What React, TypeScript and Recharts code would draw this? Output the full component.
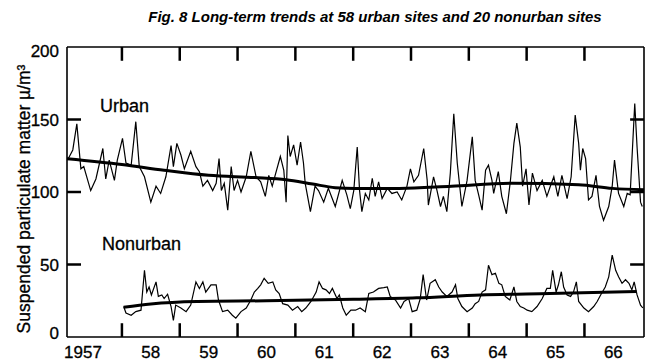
import { ComposedChart, Line, ReferenceLine, XAxis, YAxis } from 'recharts'

// urban sites, 1957-1966 (µg/m³)
const urbanYears = [
  1957.06, 1957.15, 1957.22, 1957.29, 1957.34, 1957.46, 1957.55, 1957.67, 1957.72, 1957.78,
  1957.87, 1957.92, 1958.01, 1958.07, 1958.16, 1958.24, 1958.3, 1958.39, 1958.5, 1958.59,
  1958.67, 1958.76, 1958.85, 1958.89, 1958.95, 1959.02, 1959.08, 1959.19, 1959.28, 1959.34,
  1959.4, 1959.48, 1959.57, 1959.63, 1959.68, 1959.72, 1959.77, 1959.83, 1959.89, 1959.94,
  1960.0, 1960.06, 1960.15, 1960.23, 1960.32, 1960.4, 1960.48, 1960.54, 1960.6, 1960.65,
  1960.74, 1960.8, 1960.84, 1960.87, 1960.91, 1960.97, 1961.03, 1961.09, 1961.14, 1961.17,
  1961.26, 1961.34, 1961.4, 1961.49, 1961.57, 1961.69, 1961.81, 1961.89, 1961.95, 1962.01,
  1962.07, 1962.11, 1962.15, 1962.21, 1962.27, 1962.33, 1962.38, 1962.44, 1962.5, 1962.59,
  1962.67, 1962.76, 1962.84, 1962.93, 1962.99, 1963.05, 1963.13, 1963.22, 1963.28, 1963.3,
  1963.39, 1963.45, 1963.51, 1963.56, 1963.62, 1963.68, 1963.74, 1963.8, 1963.88, 1963.97,
  1964.06, 1964.11, 1964.17, 1964.23, 1964.29, 1964.34, 1964.4, 1964.43, 1964.51, 1964.57,
  1964.65, 1964.72, 1964.78, 1964.83, 1964.89, 1964.93, 1964.99, 1965.04, 1965.1, 1965.18,
  1965.27, 1965.35, 1965.41, 1965.47, 1965.54, 1965.61, 1965.7, 1965.77, 1965.84, 1965.9,
  1965.93, 1965.97, 1966.02, 1966.07, 1966.13, 1966.2, 1966.26, 1966.33, 1966.42, 1966.48,
  1966.52, 1966.59, 1966.68, 1966.74, 1966.79, 1966.87, 1966.91, 1966.97, 1967.0,
]
const urbanValues = [
  122, 129, 147, 116, 117.5, 101, 109, 130, 109, 122,
  108, 122, 137, 120, 118.5, 148.5, 117.5, 110.5, 93, 104,
  99, 110.5, 132, 117.5, 133.5, 125.5, 116, 128, 117.5, 114,
  104, 108, 101, 106, 123, 101, 106, 87.5, 117.5, 101,
  108, 100, 110.5, 128, 110.5, 107, 97, 111.5, 104, 111.5,
  124.5, 115, 93, 139, 124.5, 132.5, 118.5, 134.5, 120, 106,
  86.5, 104, 101, 93, 102.5, 90, 108, 98, 88.5, 101,
  131, 101, 86.5, 99, 94.5, 109.5, 97, 107, 95.5, 102.5,
  99, 100, 94.5, 104, 116, 107, 111.5, 130, 108, 91,
  110.5, 101, 90, 97, 86.5, 113, 154, 120, 90, 108,
  138, 108, 98, 87.5, 115, 118.5, 108, 99, 114, 97,
  85, 108, 133.5, 147.5, 131, 104, 116, 91, 113, 101,
  108, 97, 104, 110.5, 97, 111.5, 95.5, 110.5, 153, 133.5,
  115, 130, 123, 94.5, 97, 111.5, 90, 80.5, 90, 104,
  122, 99, 90, 99, 98, 161, 131, 93, 90,
]

const urbanTrendYears = [1957.05, 1958.0, 1958.73, 1959.5, 1960.3, 1960.84, 1961.3, 1961.69, 1962.04, 1962.8, 1963.7, 1964.75, 1965.9, 1966.48, 1967.03]
const urbanTrendValues = [123, 119, 115, 111.5, 110, 108.5, 105.5, 103, 102.5, 102.5, 104, 106, 105, 102.5, 101.5]

// nonurban sites, 1958-1966
const nonurbanYears = [
  1958.03, 1958.07, 1958.16, 1958.24, 1958.33, 1958.39, 1958.43, 1958.47, 1958.51, 1958.59,
  1958.63, 1958.69, 1958.73, 1958.79, 1958.85, 1958.89, 1958.93, 1959.02, 1959.11, 1959.19,
  1959.28, 1959.34, 1959.4, 1959.45, 1959.54, 1959.63, 1959.67, 1959.74, 1959.83, 1959.91,
  1959.97, 1960.06, 1960.15, 1960.23, 1960.29, 1960.35, 1960.4, 1960.46, 1960.53, 1960.61,
  1960.66, 1960.72, 1960.78, 1960.87, 1960.95, 1961.04, 1961.11, 1961.18, 1961.27, 1961.36,
  1961.41, 1961.47, 1961.53, 1961.59, 1961.64, 1961.72, 1961.76, 1961.82, 1961.88, 1961.96,
  1962.04, 1962.12, 1962.21, 1962.27, 1962.35, 1962.44, 1962.53, 1962.59, 1962.64, 1962.73,
  1962.82, 1962.88, 1962.96, 1963.02, 1963.1, 1963.16, 1963.21, 1963.27, 1963.33, 1963.42,
  1963.48, 1963.54, 1963.62, 1963.71, 1963.77, 1963.81, 1963.88, 1963.97, 1964.06, 1964.11,
  1964.17, 1964.23, 1964.29, 1964.34, 1964.4, 1964.46, 1964.52, 1964.57, 1964.63, 1964.71,
  1964.78, 1964.83, 1964.89, 1964.95, 1965.01, 1965.09, 1965.18, 1965.27, 1965.35, 1965.41,
  1965.45, 1965.51, 1965.55, 1965.6, 1965.64, 1965.7, 1965.76, 1965.81, 1965.86, 1965.9,
  1965.99, 1966.07, 1966.16, 1966.22, 1966.28, 1966.36, 1966.42, 1966.48, 1966.54, 1966.59,
  1966.65, 1966.71, 1966.77, 1966.82, 1966.86, 1966.91, 1966.97, 1967.01,
]
const nonurbanValues = [
  21, 16.5, 15, 17.5, 18.5, 46, 31, 34.5, 29, 38,
  28, 29, 26.5, 29.5, 21, 11.5, 22, 20, 17.5, 22,
  38, 33.5, 38, 31, 36, 36, 25.5, 17.5, 18.5, 15,
  13, 17.5, 20, 25.5, 31, 33.5, 36, 40.5, 37, 38,
  32.5, 30, 23, 22, 18.5, 21, 17.5, 20, 24.5, 31,
  38, 33.5, 32.5, 30, 33.5, 26.5, 29, 20, 15, 18.5,
  18.5, 20, 17.5, 30, 31, 33.5, 34, 34.5, 28, 25.5,
  20, 24.5, 26.5, 17.5, 18.5, 26.5, 43, 25.5, 37, 39.5,
  34.5, 31, 28, 31, 36, 26.5, 21, 17.5, 20, 23,
  24.5, 31, 32.5, 49.5, 43, 44, 37, 36, 28, 25.5,
  34.5, 24.5, 21, 20, 18.5, 17.5, 21, 26.5, 33.5, 33.5,
  46, 31, 36, 45, 34.5, 29, 28, 31, 38, 24.5,
  20, 17.5, 21, 24.5, 29, 34.5, 41.5, 56.5, 46, 41.5,
  37, 39.5, 37, 32.5, 38, 29, 22, 20,
]

const nonurbanTrendYears = [1958.03, 1958.5, 1959.3, 1960.5, 1962.0, 1963.1, 1964.2, 1965.4, 1966.9]
const nonurbanTrendValues = [20.5, 22.8, 24.5, 25, 26, 27, 29, 30, 31.3]

// mid-year label positions and the year boundaries (inward tick marks)
const yearLabels = ['1957', '58', '59', '60', '61', '62', '63', '64', '65', '66']
const labelTicks = [1957.5, 1958.5, 1959.5, 1960.5, 1961.5, 1962.5, 1963.5, 1964.5, 1965.5, 1966.5]
const yearBoundaries = [1958, 1959, 1960, 1961, 1962, 1963, 1964, 1965, 1966]
const yTicks = [0, 50, 100, 150, 200]
const innerYTicks = [50, 100, 150]

const X_DOMAIN: [number, number] = [1957.05, 1967.03]
const Y_DOMAIN: [number, number] = [0, 200]
const INK = 'black'
// inward mark length in data units (about 14px on each axis)
const MARK_Y = 9.5
const MARK_X = 0.24
const MARK_W = 2.5

const toPoints = (xs: number[], ys: number[]) => xs.map((year, i) => ({ year, value: ys[i] }))

const urbanData = toPoints(urbanYears, urbanValues)
const urbanTrend = toPoints(urbanTrendYears, urbanTrendValues)
const nonurbanData = toPoints(nonurbanYears, nonurbanValues)
const nonurbanTrend = toPoints(nonurbanTrendYears, nonurbanTrendValues)

const textInk = { fill: INK, stroke: INK, strokeWidth: 0.3, fontFamily: '"Liberation Sans", Arial, sans-serif' }

function YearTick(props: any) {
  const x = Number(props.x)
  const y = Number(props.y)
  const i = labelTicks.findIndex((t) => Math.abs(t - Number(props.payload?.value)) < 1e-6)
  if (i < 0) return <g />
  return (
    <text x={i === 0 ? x - 10 : x} y={y} dy="0.71em" textAnchor="middle" fontSize={17} {...textInk}>
      {yearLabels[i]}
    </text>
  )
}

// left axis: label outside, inward mark at 50/100/150
function ValueTick(props: any) {
  const x = Number(props.x)
  const y = Number(props.y)
  const v = Number(props.payload?.value)
  const nudge = v === 200 ? 4 : v === 0 ? -4 : 0
  const inner = innerYTicks.indexOf(v) >= 0
  return (
    <g>
      <text x={x} y={y + nudge} dy="0.355em" textAnchor="end" fontSize={17} {...textInk}>
        {v}
      </text>
      {inner ? <line x1={x + 8} x2={x + 22} y1={y} y2={y} stroke="black" strokeWidth={MARK_W} /> : null}
    </g>
  )
}

export default function App() {
  const frame = { stroke: INK, strokeWidth: 1.6 }

  return (
    <div style={{ position: 'absolute', left: 0, top: 0, width: 650, height: 363, background: '#fff' }}>
      <svg width={650} height={363} style={{ position: 'absolute', left: 0, top: 0 }}>
        <text x={375} y={22} textAnchor="middle" fontSize={15} fontWeight="bold" fontStyle="italic" fill={INK} fontFamily='"Liberation Sans", Arial, sans-serif'>
          Fig. 8 Long-term trends at 58 urban sites and 20 nonurban sites
        </text>
        <text x={0} y={0} transform="translate(30 199) rotate(-90)" textAnchor="middle" fontSize={17.5} {...textInk}>
          Suspended particulate matter µ/m³
        </text>
        <text x={100} y={112} fontSize={18} {...textInk}>Urban</text>
        <text x={102} y={250} fontSize={18} {...textInk}>Nonurban</text>
      </svg>

      <ComposedChart width={650} height={363} margin={{ top: 47, right: 6, bottom: 0, left: 7 }}>
        <XAxis
          xAxisId="x"
          dataKey="year"
          type="number"
          domain={X_DOMAIN}
          allowDataOverflow
          ticks={labelTicks}
          tick={<YearTick />}
          tickLine={false}
          tickSize={0}
          tickMargin={9}
          height={26}
          axisLine={frame}
          interval={0}
        />
        <YAxis
          yAxisId="y"
          type="number"
          domain={Y_DOMAIN}
          allowDataOverflow
          ticks={yTicks}
          tick={<ValueTick />}
          tickLine={false}
          tickSize={0}
          tickMargin={8}
          width={60}
          axisLine={frame}
          interval={0}
        />

        <ReferenceLine xAxisId="x" yAxisId="y" stroke="black" strokeWidth={1.6} y={Y_DOMAIN[1]} ifOverflow="visible" />
        <ReferenceLine xAxisId="x" yAxisId="y" stroke="black" strokeWidth={1.6} x={X_DOMAIN[1]} ifOverflow="visible" />

        {yearBoundaries.map((yr) => (
          <ReferenceLine key={`b${yr}`} xAxisId="x" yAxisId="y" stroke="black" strokeWidth={MARK_W} ifOverflow="visible"
            segment={[{ x: yr, y: 0 }, { x: yr, y: MARK_Y }]} />
        ))}
        {yearBoundaries.map((yr) => (
          <ReferenceLine key={`t${yr}`} xAxisId="x" yAxisId="y" stroke="black" strokeWidth={MARK_W} ifOverflow="visible"
            segment={[{ x: yr, y: 200 }, { x: yr, y: 200 - MARK_Y }]} />
        ))}
        {innerYTicks.map((v) => (
          <ReferenceLine key={`r${v}`} xAxisId="x" yAxisId="y" stroke="black" strokeWidth={MARK_W} ifOverflow="visible"
            segment={[{ x: X_DOMAIN[1], y: v }, { x: X_DOMAIN[1] - MARK_X, y: v }]} />
        ))}

        <Line xAxisId="x" yAxisId="y" data={urbanData} dataKey="value" type="linear" stroke={INK} strokeWidth={1.2} dot={false} isAnimationActive={false} />
        <Line xAxisId="x" yAxisId="y" data={nonurbanData} dataKey="value" type="linear" stroke={INK} strokeWidth={1.2} dot={false} isAnimationActive={false} />
        <Line xAxisId="x" yAxisId="y" data={urbanTrend} dataKey="value" type="monotone" stroke={INK} strokeWidth={3} dot={false} isAnimationActive={false} />
        <Line xAxisId="x" yAxisId="y" data={nonurbanTrend} dataKey="value" type="monotone" stroke={INK} strokeWidth={3} dot={false} isAnimationActive={false} />
      </ComposedChart>
    </div>
  )
}
